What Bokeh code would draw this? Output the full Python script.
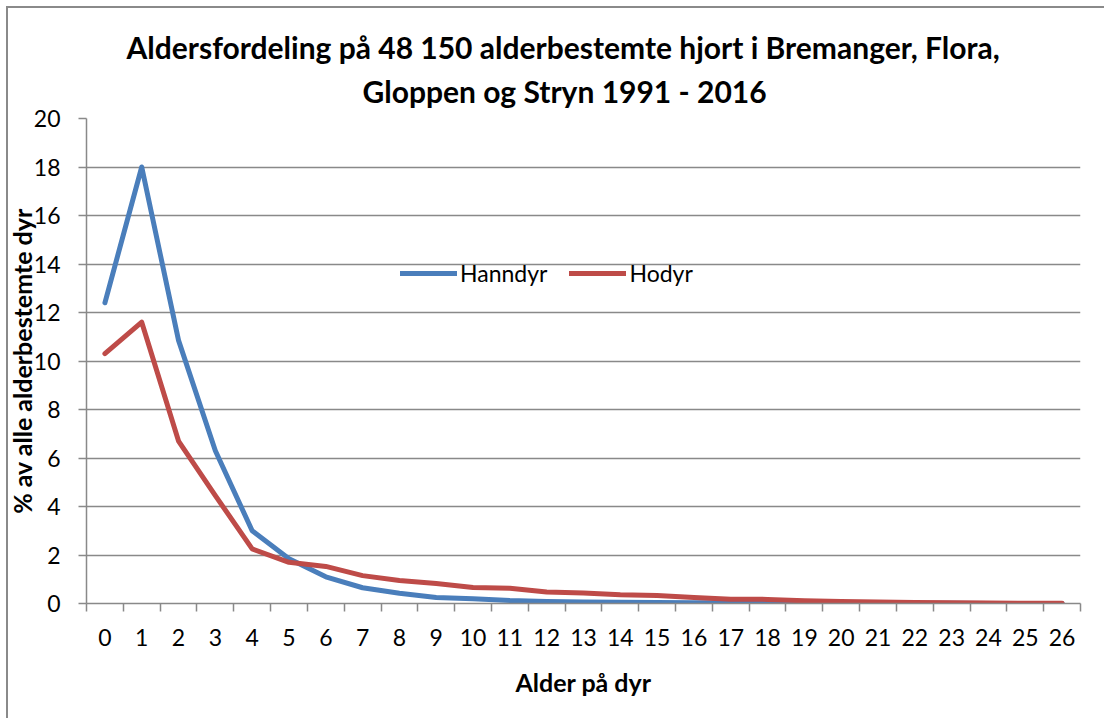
from bokeh.plotting import figure
from bokeh.models import FixedTicker, Legend, LegendItem, Title, Range1d
from bokeh.embed import file_html
from bokeh.resources import INLINE

ages = list(range(27))
age_labels = [str(a) for a in ages]
hanndyr = [12.4, 18.0, 10.85, 6.3, 3.0, 1.85, 1.1, 0.65, 0.42, 0.25, 0.2, 0.12,
           0.08, 0.06, 0.05, 0.04, 0.03, 0.03, 0.02, 0.02, 0.01, 0.01, 0.01, 0.01,
           0.0, 0.0, 0.0]
hodyr = [10.3, 11.6, 6.7, 4.45, 2.25, 1.7, 1.53, 1.15, 0.95, 0.82, 0.66, 0.63,
         0.47, 0.43, 0.36, 0.33, 0.25, 0.18, 0.17, 0.11, 0.08, 0.06, 0.04, 0.03,
         0.02, 0.01, 0.01]
y_ticks = list(range(0, 21, 2))

FONT = "Lato"
GREY = "#898989"
TICK_SIZE = "23px"

p = figure(width=1104, height=718, output_backend="svg", toolbar_location=None,
           x_range=Range1d(-0.5, 26.5), y_range=Range1d(0, 20),
           min_border_left=86, min_border_right=24, min_border_top=118,
           min_border_bottom=115)
p.border_fill_alpha = 0
p.styles = {"box-shadow": "inset 6px 6px 0 0 white, inset 8px 8px 0 0 #8a8a8a",
            "background": "white"}
p.outline_line_color = None

p.add_layout(Title(text="Gloppen og Stryn 1991 - 2016", align="left",
                   text_font=FONT, text_font_size="30px", text_font_style="bold",
                   text_color="black", offset=276, standoff=19), "above")
p.add_layout(Title(text="Aldersfordeling på 48 150 alderbestemte hjort i Bremanger, Flora,",
                   align="left", text_font=FONT, text_font_size="30px",
                   text_font_style="bold", text_color="black", offset=40,
                   standoff=-6), "above")

r1 = p.line(ages, hanndyr, line_color="#4A7EBB", line_width=5,
            line_cap="round", line_join="round")
r2 = p.line(ages, hodyr, line_color="#BE4B48", line_width=5,
            line_cap="round", line_join="round")

# x axis: ticks between categories, labels at category centres
xa = p.xaxis[0]
xa.ticker = FixedTicker(ticks=ages, minor_ticks=[a - 0.5 for a in ages] + [26.5])
xa.major_label_overrides = {a: l for a, l in zip(ages, age_labels)}
xa.major_tick_line_color = None
xa.minor_tick_line_color = GREY
xa.minor_tick_line_width = 1.5
xa.minor_tick_in = 0
xa.minor_tick_out = 8
xa.axis_line_color = GREY
xa.axis_line_width = 1.5
xa.major_label_standoff = 17
xa.major_label_text_font = FONT
xa.major_label_text_font_size = TICK_SIZE
xa.major_label_text_color = "black"
xa.axis_label = "Alder på dyr"
xa.axis_label_text_font = FONT
xa.axis_label_text_font_size = "25px"
xa.axis_label_text_font_style = "bold"
xa.axis_label_text_color = "black"
xa.axis_label_standoff = 18

ya = p.yaxis[0]
ya.ticker = FixedTicker(ticks=y_ticks, minor_ticks=[])
ya.major_tick_line_color = GREY
ya.major_tick_line_width = 1.5
ya.major_tick_in = 0
ya.major_tick_out = 8
ya.axis_line_color = GREY
ya.axis_line_width = 1.5
ya.major_label_standoff = 18
ya.major_label_text_font = FONT
ya.major_label_text_font_size = TICK_SIZE
ya.major_label_text_color = "black"
ya.axis_label = "% av alle alderbestemte dyr"
ya.axis_label_text_font = FONT
ya.axis_label_text_font_size = "25px"
ya.axis_label_text_font_style = "bold"
ya.axis_label_text_color = "black"
ya.axis_label_standoff = -6

p.xgrid.grid_line_color = None
p.ygrid.ticker = FixedTicker(ticks=y_ticks)
p.ygrid.grid_line_color = GREY
p.ygrid.grid_line_width = 1.5

legend = Legend(items=[LegendItem(label="Hanndyr", renderers=[r1]),
                       LegendItem(label="Hodyr", renderers=[r2])],
                orientation="horizontal", location=(314, 316),
                border_line_color=None, background_fill_alpha=0,
                label_text_font=FONT, label_text_font_size=TICK_SIZE,
                label_text_color="black", glyph_width=57, glyph_height=28,
                label_standoff=3, spacing=22, padding=0, margin=0)
p.add_layout(legend, "center")

open("out.html", "w").write(file_html(p, INLINE))
